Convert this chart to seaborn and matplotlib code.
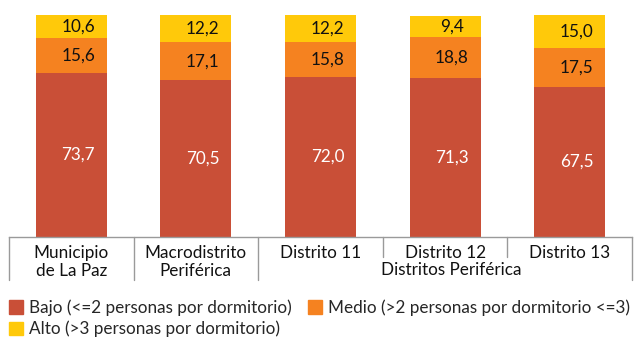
import numpy as np
import pandas as pd
import seaborn as sns
import matplotlib.pyplot as plt
from matplotlib.patches import Patch

sns.set_theme(style="white")
plt.rcParams["font.family"] = ["Lato", "DejaVu Sans"]

categories = ["Municipio\nde La Paz", "Macrodistrito\nPeriférica", "Distrito 11",
              "Distrito 12", "Distrito 13"]
bajo = [73.7, 70.5, 72.0, 71.3, 67.5]
medio = [15.6, 17.1, 15.8, 18.8, 17.5]
alto = [10.6, 12.2, 12.2, 9.4, 15.0]
series_names = ["Bajo (<=2 personas por dormitorio)",
                "Medio (>2 personas por dormitorio <=3)",
                "Alto (>3 personas por dormitorio)"]
group_label = "Distritos Periférica"

colors = ["#C94F37", "#F58220", "#FFC90A"]
FS = 12.3

df = pd.DataFrame({"cat": categories, "bajo": bajo, "medio": medio, "alto": alto})
df["c1"] = df["bajo"]
df["c2"] = df["bajo"] + df["medio"]
df["c3"] = df["c2"] + df["alto"]

fig = plt.figure(figsize=(6.4, 3.54), dpi=100)
ax = fig.add_axes([0.014, 0.3305, 0.9735, 0.628])

# stacked look: draw the totals first, then smaller cumulative sums on top
for col, color in zip(["c3", "c2", "c1"], colors[::-1]):
    sns.barplot(data=df, x="cat", y=col, color=color, width=0.57, ax=ax,
                saturation=1, linewidth=0, errorbar=None)

# value labels
for i, row in df.iterrows():
    segs = [(0, row["bajo"], "white"), (row["c1"], row["medio"], "#111111"),
            (row["c2"], row["alto"], "#111111")]
    for bottom, h, tc in segs:
        ax.annotate(f"{h:.1f}".replace(".", ","), (i, bottom + h / 2),
                    xytext=(5, 0), textcoords="offset points",
                    ha="center", va="center", fontsize=FS, color=tc)

ax.set_xlim(-0.5, 4.5)
ax.set_ylim(0, 100)
ax.set_yticks([])
ax.set_xlabel(None)
ax.set_ylabel(None)
for s in ["top", "left", "right"]:
    ax.spines[s].set_visible(False)
ax.spines["bottom"].set_color("#9A9A9A")
ax.spines["bottom"].set_linewidth(1)
ax.tick_params(axis="x", length=0, pad=6, labelsize=FS, labelcolor="#111111")
for lbl in ax.get_xticklabels():
    lbl.set_linespacing(1.15)

# category separators under the axis
trans = ax.get_xaxis_transform()
for x in [-0.5, 0.5, 1.5, 4.5]:
    ax.plot([x, x], [0, -0.194], transform=trans, color="#9A9A9A", lw=1, clip_on=False)
for x in [2.5, 3.5]:
    ax.plot([x, x], [0, -0.09], transform=trans, color="#9A9A9A", lw=1, clip_on=False)
ax.text(3.05, -0.148, group_label, transform=trans, ha="center", va="center",
        fontsize=FS, color="#111111")

handles = [Patch(color=colors[0]), Patch(color=colors[2]), Patch(color=colors[1])]
labels = [series_names[0], series_names[2], series_names[1]]
fig.legend(handles, labels, ncol=2, loc="upper left", bbox_to_anchor=(0.014, 0.155),
           frameon=False, handlelength=0.85, handleheight=0.85, handletextpad=0.35,
           columnspacing=0.9, fontsize=FS, borderaxespad=0, borderpad=0,
           labelspacing=0.3)

fig.savefig("out.png", dpi=100)
